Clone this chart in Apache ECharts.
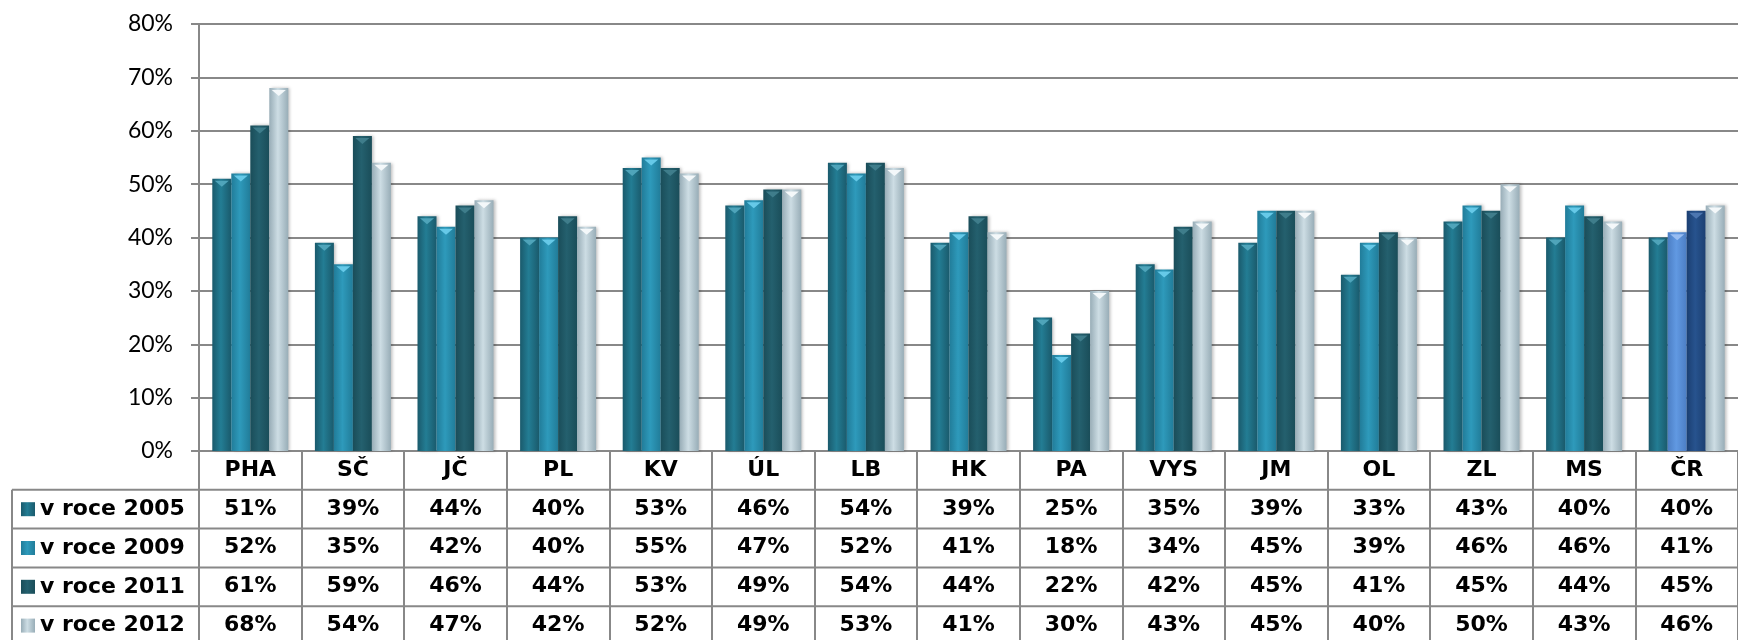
<!DOCTYPE html>
<html>
<head>
<meta charset="utf-8">
<script src="https://cdn.jsdelivr.net/npm/echarts@6/dist/echarts.min.js"></script>
<style>
html,body{margin:0;padding:0;background:#fff;}
#chart{width:1738px;height:640px;}
</style>
</head>
<body>
<div id="chart"></div>
<script>
// ---- data ----
const categories = ['PHA','SČ','JČ','PL','KV','ÚL','LB','HK','PA','VYS','JM','OL','ZL','MS','ČR'];
const seriesNames = ['v roce 2005','v roce 2009','v roce 2011','v roce 2012'];
const v2005 = [51,39,44,40,53,46,54,39,25,35,39,33,43,40,40];
const v2009 = [52,35,42,40,55,47,52,41,18,34,45,39,46,46,41];
const v2011 = [61,59,46,44,53,49,54,44,22,42,45,41,45,44,45];
const v2012 = [68,54,47,42,52,49,53,41,30,43,45,40,50,43,46];
const yTicks = [0,10,20,30,40,50,60,70,80];

// ---- styles ----
const values = [v2005, v2009, v2011, v2012];
const grad = (e, c) => ({type:'linear',x:0,y:0,x2:1,y2:0,colorStops:[
  {offset:0,color:e},{offset:0.45,color:c},{offset:1,color:e}]});
const barStyles = [
  {edge:'#1a5a6c', center:'#237d94', tri:'#4fa4ba'},
  {edge:'#217c99', center:'#2e9abb', tri:'#66c9e8'},
  {edge:'#1a4d59', center:'#24606e', tri:'#3f7d8b'},
  {edge:'#98adb7', center:'#cddde4', tri:'#f4f8fa'}
];
// special colours for the last category (ČR)
const lastStyles = [
  null,
  {edge:'#4c7ec4', center:'#6199e2', tri:'#98bdf2'},
  {edge:'#1b3f72', center:'#27538e', tri:'#4c76b0'},
  null
];
const gray = '#888888';
const gridLeft = 199, gridTop = 24, gridH = 427, gridW = 1558, rowH = 38.8;
const boldFont = 'DejaVu Sans';

const series = [];
values.forEach((arr, s) => {
  const last = categories.length - 1;
  series.push({
    name: seriesNames[s], type: 'bar', barWidth: 19, barGap: '0%',
    itemStyle: {color: grad(barStyles[s].edge, barStyles[s].center),
                shadowColor:'rgba(0,0,0,0.25)', shadowBlur:3, shadowOffsetX:2},
    data: arr.map((v, i) => (i === last && lastStyles[s]) ?
      {value: v, itemStyle: {color: grad(lastStyles[s].edge, lastStyles[s].center)}} : v),
    z: 2
  });
});
values.forEach((arr, s) => {
  const last = categories.length - 1;
  series.push({
    name: 'tri' + s, type: 'pictorialBar', barWidth: 19, barGap: '0%',
    symbol: 'path://M0,0 L10,0 L5,6 Z', symbolSize: [14, 6],
    symbolPosition: 'end', symbolOffset: [0, 2],
    itemStyle: {color: barStyles[s].tri},
    data: arr.map((v, i) => (i === last && lastStyles[s]) ?
      {value: v, itemStyle: {color: lastStyles[s].tri}} : v),
    z: 3, silent: true
  });
});

const xAxes = [{
  type: 'category', data: categories, gridIndex: 0, position: 'bottom',
  axisLine: {show: true, lineStyle: {color: gray, width: 2}},
  axisTick: {show: true, interval: 0, length: 200, lineStyle: {color: gray, width: 2}},
  axisLabel: {interval: 0, margin: 19, verticalAlign: 'middle', fontFamily: boldFont,
              fontWeight: 'bold', fontSize: 22, color: '#000'}
}];
values.forEach((arr, s) => {
  xAxes.push({
    type: 'category', data: categories, gridIndex: 0, position: 'bottom',
    offset: rowH * (s + 1),
    axisLine: {show: false}, axisTick: {show: false},
    axisLabel: {interval: 0, margin: 19, verticalAlign: 'middle', fontFamily: boldFont,
                fontWeight: 'bold', fontSize: 22, color: '#000',
                formatter: (val, idx) => arr[idx] + '%'}
  });
});

// table border lines
const tableTop = gridTop + gridH;
const graphics = [];
for (let k = 1; k <= 4; k++) {
  const y = tableTop + rowH * k;
  graphics.push({type:'line', shape:{x1:12, y1:y, x2:1738, y2:y},
                 style:{stroke:gray, lineWidth:2}, z: 10});
}
graphics.push({type:'line', shape:{x1:12, y1:tableTop + rowH, x2:12, y2:640},
               style:{stroke:gray, lineWidth:2}, z: 10});

const chart = echarts.init(document.getElementById('chart'));
chart.setOption({
  animation: false,
  backgroundColor: '#fff',
  grid: {left: gridLeft, top: gridTop, width: gridW, height: gridH, containLabel: false},
  xAxis: xAxes,
  yAxis: {
    type: 'value', min: yTicks[0], max: yTicks[yTicks.length - 1], interval: 10,
    axisLine: {show: true, lineStyle: {color: gray, width: 2}},
    axisTick: {show: true, length: 8, lineStyle: {color: gray, width: 2}},
    splitLine: {show: true, lineStyle: {color: gray, width: 2}},
    axisLabel: {margin: 26, fontFamily: 'Lato', fontSize: 23, color: '#000',
                formatter: '{value}%'}
  },
  legend: {
    data: seriesNames, orient: 'vertical', left: 21, top: tableTop + rowH,
    width: 190, height: 220,
    padding: 0, itemGap: 0, itemWidth: 14, itemHeight: 14, icon: 'rect',
    textStyle: {fontFamily: boldFont, fontWeight: 'bold', fontSize: 22, color: '#000',
                lineHeight: rowH},
    selectedMode: false
  },
  graphic: graphics,
  series: series
});
</script>
</body>
</html>
